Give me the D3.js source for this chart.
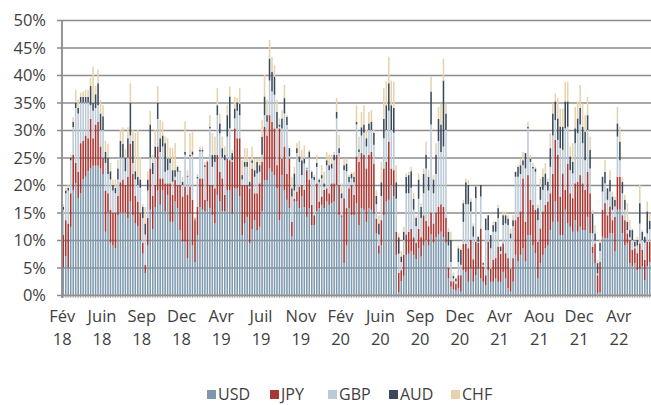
<!DOCTYPE html>
<html>
<head>
<meta charset="utf-8">
<script src="https://cdn.jsdelivr.net/npm/d3@7"></script>
<style>
  body { margin: 0; background: #fff; }
  text { font-family: "Open Sans", "Noto Sans", sans-serif; fill: #404040; }
</style>
</head>
<body>
<div id="chart"></div>
<script>
// weekly shares (%), Feb 2018 -> Jul 2022
var usd = [5,7,5,12.4,19,20.3,17.6,18.5,21,21.5, 22.5,23,23.5,23.5,23.5,23,22,11.5,15,9.5, 9,8.5,14.5,15,15,15,14,17,14.5,13, 12.5,10,7.5,4,9,15.5,12,16,19,
  16.4,19,15.2,18.2,13.3,13.3,17,15.8,11.8,9.7, 9.7,6.7,14.8,9,6,10.9,16,15.5,15.2,17, 15.8,14.5,13,18.2,17,15.2,15.2,19,19,14.8, 19.4,19.4,17.9,10.9,13,14.2,9.4,12,13.6,
  11.8,12.4,15.2,20.9,20.9,23,22.4,21.8,19.4,13.6, 21.8,19,17.3,15.8,10.6,17,17,15.8,17.9,16, 14.2,15.8,12.7,12.7,15.2,15.8,16.4,15.8,17,16.4, 16.7,17,20,14.5,14.2,5.8,9,15.8,14.5,
  14.5,16.7,12.7,15.8,15.5,13.3,15.8,15.5,14.8,11.2, 7.5,9,14.5,17,17.3,20,18,7.3,0.5,2.5, 3.5,7.3,7.5,8,7.3,6.5,8.5,7,9,10, 9,11,9.5,10.5,11,11.5,10.5,9.5,3,1.5,
  1,0.8,1.2,0.6,4.5,4.2,2.4,4.8,2.4,3.6, 4.8,3,2.4,1.8,4.5,2.4,2.4,3,2.4,2.4, 4.2,3,1.2,0.6,2.4,7.3,6.1,7.3,8.5,6.1, 10.9,10.9,9,7.6,3,5.8,7.3,8.5,9,11.8, 13.3,17,13.3,
  10.9,10.9,15.5,13,12.4,11.5,13.6,11.5,12.4,11.8, 11.8,14.2,11.2,7.6,5.8,0.3,0.5,10.6,10.3,10.3, 11.2,11.2,7.9,15.5,15.5,11.2,9,9.4,5.8,5.2, 5.8,4.5,4.8,5.2,2.7,5.2,6];

var jpy = [6,6.6,8,6.1,6.5,3.7,4.8,9.1,7,7.5, 6,9,5,7.5,8,4,3,7.5,3.5,6, 6,6.5,3.5,5.5,6,5,7.5,10.5,7.5,5, 4.5,5,2,1.5,5,7.5,6,4,8,
  4.8,2.2,5.1,2.1,7,4.9,3.9,4.2,8.2,8.2, 10,11.5,4.9,8.3,7.6,5.1,5.2,5.7,2.1,7.2, 4.2,5.5,6.4,7.3,5.4,6,3,5.8,5.5,9.4, 10.9,9.1,10.6,9.1,7,5.8,10,11,4.9,
  6.7,7.9,9,9.7,8.1,9.7,9.1,8.5,4.2,16.7, 3,8,4.7,9,2.7,0.5,1.8,3.9,2.1,3.1, 8.5,5.2,3.7,1.8,5.1,1.2,1.5,3.3,2.4,2.1, 3.6,3.3,5.5,5.5,0.3,11.8,6.8,3.6,5.5,
  3.7,8.5,11.5,10,10,9.7,9.7,10.5,9.1,2.7, 1.5,4.6,8.5,7.2,10.6,3,4.7,4.2,3.5,2, 3.8,3.7,4,4,3.2,3,3.5,3.5,5.5,3.5, 3.5,4,3.5,4.5,5,5,5.5,4.5,2,1,
  1.5,1.2,2.4,3,4.8,5.1,6.1,5.2,4.1,6.1, 4.7,9.1,2.8,1.8,5.2,2.4,4,3.7,6.4,5.1, 5.2,4.6,5.5,4.2,4.3,6.3,8.1,7.9,12.7,7.2, 10.9,6.4,7.4,7.9,6.7,6.3,7.9,7.9,8,6.7, 8.7,11.2,12.2,
  7,11.2,3.6,10.9,6.1,6.1,6.7,9.1,9.4,8.5, 7.3,8.2,7.3,1.2,3.6,3.3,5.5,4.9,6.4,4.2, 4.9,2.4,6.3,6,6,3.3,4.6,1.8,4.2,3, 2.7,3.1,4.6,3,3.7,4.5,3.7];

var gbp = [4.5,4.9,6,6,5,10,10.6,7.4,7,6, 6.5,2.5,5,3,3,3,5,5,3.5,5.5, 4,3.5,3,4.5,4,2.5,3.5,1.5,2,3, 3,4.5,4.5,5.5,5,2,4,5,5,
  4.8,5.8,2.1,2.4,3.7,2.4,0.6,2.4,2.4,2.1, 5.8,3.3,5.5,8.2,0.1,5.2,4.9,4.9,6,0.1, 10.3,3.3,4.8,7.2,7,3.8,6.3,4,5.8,0.3, 1.8,5,4.2,1,3.3,3.3,0.3,1,3,
  3.6,2.1,1.3,2.1,2.5,6.3,5.5,6.1,6.7,0.3, 5.5,6,8.9,0.4,4.6,1.5,7,4.5,1.8,4.8, 0.3,4,4.8,6.4,3,3.5,3.3,0.6,4.2,4.2, 2.7,4.2,6.6,5.8,3.1,5.1,6.7,1.1,1.2,
  2.3,5.8,1.8,3.2,4,4,4.5,4,3.4,2.6, 2,4.4,5.5,5.8,5.6,7,6.8,6,3.5,1.5, 2.7,7.5,7,7.5,5,3,5.5,3.5,4,9.5, 6.5,16,5.5,7,12,9.5,11,16,4,3.5,
  0.5,0.5,2.4,1.9,4,7.2,8,5.2,4.1,7.9, 0.2,5.8,0.3,8.2,2.1,3.7,5.1,4.8,5.2,0.5, 3.3,5.4,6,5.5,5.8,7.9,7.3,6.8,2.4,9.7, 8.5,6.9,6.6,6.9,3.9,5.2,3.9,3.6,2,4.8, 7,3.6,2.7,
  8.8,4.3,11.2,6.7,4.2,4.5,7.3,8.8,9.2,7.3, 5.4,7.6,4.5,2.4,0.5,0.3,2,3.3,3.6,2.8, 2.7,1.9,1.9,7.3,3,4,1.9,0.6,0.5,1.8, 0.3,1.4,3.6,1.8,3.1,1.5,2.3];

var aud = [0.5,0.5,0.5,0.5,1,1,1,1,1,1, 1,3.5,1.5,2.5,4,3,2.5,2,3,1.5, 1,1,2,3,2.5,2.5,3.5,6,4,1.5, 1.5,1.5,2,2,2,6,2,2,3,
  2.5,2,5.2,2.1,0.8,2.1,1.2,0.9,0.1,0.6, 0.5,0.2,0.3,0.6,0.2,0.3,0.3,0.3,0.3,0.1, 0.3,2.2,1.3,1.8,1.8,1.7,1,3.9,5.8,1.3, 1.8,1.5,2.1,0.8,0.9,0.9,0.9,0.5,1.2,
  2.1,1.2,3.3,3.4,1.2,4,3.6,3.3,3,0.4, 1.8,2.8,1.5,1.5,1.5,3.1,0.9,1,2.7,0.9, 0.1,1.1,1.2,0.6,0.7,0.5,0.6,0.6,0.9,0.9, 0.9,1,1.2,0.9,0.9,0.9,1.4,1,0.8,
  1,0.5,0.5,1.5,1.5,1.5,1.2,1.5,2.2,1.5, 2,2.5,3.5,4.5,5,4.5,4.5,3,3,1, 1.5,3,3.3,3,2,1.5,3.5,2,3.5,2.5, 2.5,6,2.5,3.5,4,5,12,3,2.5,4,
  0.5,0.5,2.5,2.7,3.4,4,3.5,1.8,1.9,2.1, 0.9,2.1,0.3,2.1,2.7,2.4,1.2,1.8,1.8,0.8, 1.8,1.5,1.2,0.9,1.1,0.9,1.8,1.6,0.9,2.8, 0.3,0.6,0.3,0.6,2.2,2.4,2.4,2.1,1.6,3.4, 4,3.4,3.9,
  3.9,4.2,4.9,4.6,2.5,2.1,2.7,2.7,3,3, 5.2,2.7,3.4,3.6,1.3,1.9,1.5,2.7,2.1,2.1, 2.1,2.4,1.2,2.4,3.4,2.1,1.8,1.5,1.3,1.8, 0.9,1,3.7,1.5,1.1,4,1.5];

var chf = [0.5,0.5,0.5,0.5,0.9,2.3,1.5,0.8,1,1.3, 1.3,1.5,6.5,1.5,2.5,2.5,2,2,2.5,1.5, 1,1.5,1.5,2,3,1.5,2,3.5,2,7, 8.5,4,0.5,3,1.5,2.5,1.5,3,3,
  3.3,2.5,1.2,3.7,2,4,4.9,0.3,0.2,0.9, 5.6,1,3.9,3.6,0.3,0.5,0.6,0.6,0.6,0.1, 2.1,3.9,3.3,3.1,1.8,2.1,1.5,1.8,1.8,0.6, 2.1,0.8,2.8,2.7,2.5,2.5,4.2,2.5,2.1,
  0.6,1.2,3,3.9,2.8,3.4,2.7,2.1,2.2,1.1, 1.5,2.4,0.3,0,2.1,1.2,0.9,2.8,1.9,2.4, 0.2,0.3,0.3,0.3,1.5,0.2,1.8,2.1,1.5,1.9, 1.6,0.5,2.5,2.4,1.8,1.2,0.9,0.3,0.4,
  0.9,3,2.3,2.8,3.5,1.5,2.1,2.1,0.5,1, 1.5,3.7,5.6,4.3,4.8,4.5,4.8,3.1,0.7,1, 0.9,0.6,0.6,0.8,1,0.5,1.1,0.7,1,2.4, 1.2,2.7,0.8,2.1,2.2,3.8,4,1.8,0.6,1.5,
  0.6,0.2,0.5,0.3,0.6,0.7,0.9,0.6,0.5,0, 0,0,0.2,0,0,0,0.6,0,0.6,0, 0.7,0.7,0.6,0.9,0.9,0,0.3,1.2,1.5,0, 0.9,0.7,0.7,0.3,0.6,1.5,1.5,1.9,0.6,2.7, 1.8,1.5,3.7,
  3.3,3.3,3.6,3.6,1.8,3.4,3.9,3.1,4.2,4.2, 3,3.3,2.4,0.7,1.5,0.6,0.5,0,2.1,0, 1.8,0.9,0.6,3,2.7,0.9,0.9,3.4,1.8,0.3, 0,0.6,3.3,0.3,0,1.8,1.3];

var monthLabels = ["Fév","Juin","Sep","Dec","Avr","Juil","Nov","Fév","Juin","Sep","Dec","Avr","Aou","Dec","Avr"];
var yearLabels  = ["18","18","18","18","19","19","19","20","20","20","20","21","21","21","22"];
var labelEvery = 16;   // one label every 16 weeks
var yTicks = [0,5,10,15,20,25,30,35,40,45,50];

var keys = ["USD","JPY","GBP","AUD","CHF"];
var colors = ["#7e98ad","#a93733","#bccad6","#3b4a5a","#e6d3ac"];

var W = 651, H = 405;
var plotL = 62, plotR = 651, plotT = 20, plotB = 295;

var rows = usd.map(function(v, i) {
  return {i: i, USD: usd[i], JPY: jpy[i], GBP: gbp[i], AUD: aud[i], CHF: chf[i]};
});

var svg = d3.select("#chart").append("svg")
    .attr("width", W)
    .attr("height", H);

var x = d3.scaleBand()
    .domain(rows.map(function(d) { return d.i; }))
    .range([plotL, plotR])
    .paddingInner(0.38)
    .paddingOuter(0.2);

var y = d3.scaleLinear()
    .domain([0, 50])
    .range([plotB, plotT]);

// gridlines + y labels
svg.append("g")
    .attr("transform", "translate(" + plotL + ",0)")
    .call(d3.axisLeft(y).tickValues(yTicks).tickSize(-(plotR - plotL)).tickSizeOuter(0)
      .tickFormat(function(d) { return d + "%"; }))
    .call(function(g) {
      g.select(".domain").remove();
      g.selectAll(".tick line").attr("stroke", "#8c8c8c").attr("stroke-width", 1.6).attr("x1", -5);
      g.selectAll(".tick text").attr("x", -16).attr("dy", "0.36em")
        .style("font-size", "16.5px").style("fill", "#404040");
    });

var series = d3.stack().keys(keys)(rows);

svg.append("g")
  .selectAll("g")
  .data(series)
  .enter().append("g")
    .attr("fill", function(d, k) { return colors[k]; })
  .selectAll("rect")
  .data(function(d) { return d; })
  .enter().append("rect")
    .attr("x", function(d) { return x(d.data.i); })
    .attr("y", function(d) { return y(d[1]); })
    .attr("width", x.bandwidth())
    .attr("height", function(d) { return Math.max(0, y(d[0]) - y(d[1])); });

// bottom axis with a tick per week
svg.append("g")
    .attr("transform", "translate(0," + plotB + ")")
    .call(d3.axisBottom(x).tickSize(3).tickSizeOuter(0).tickFormat(""))
    .call(function(g) {
      g.select(".domain").attr("stroke", "#8c8c8c").attr("stroke-width", 1.6);
      g.selectAll(".tick line").attr("stroke", "#9a9a9a").attr("stroke-width", 0.8);
    });

// left axis line
svg.append("line")
    .attr("x1", plotL).attr("x2", plotL)
    .attr("y1", plotT).attr("y2", plotB + 3)
    .attr("stroke", "#8c8c8c").attr("stroke-width", 1.8);

// category labels (two lines)
var lab = svg.append("g").selectAll("text")
    .data(monthLabels)
    .enter().append("text")
    .attr("text-anchor", "middle")
    .attr("x", function(d, k) { return x(k * labelEvery) + x.bandwidth() / 2 - 1; })
    .attr("y", 322)
    .style("font-size", "16.5px");
lab.append("tspan").text(function(d) { return d; });
lab.append("tspan")
    .attr("x", function(d, k) { return x(k * labelEvery) + x.bandwidth() / 2 - 1; })
    .attr("dy", 23)
    .text(function(d, k) { return yearLabels[k]; });

// legend
var legX = [207, 270, 328, 389, 451];
var leg = svg.append("g").selectAll("g")
    .data(keys)
    .enter().append("g")
    .attr("transform", function(d, k) { return "translate(" + legX[k] + ",395)"; });
leg.append("rect")
    .attr("x", 0).attr("y", -5)
    .attr("width", 9).attr("height", 9)
    .attr("fill", function(d, k) { return colors[k]; });
leg.append("text")
    .attr("x", 11).attr("y", 5)
    .style("font-size", "16px")
    .text(function(d) { return d; });
</script>
</body>
</html>
